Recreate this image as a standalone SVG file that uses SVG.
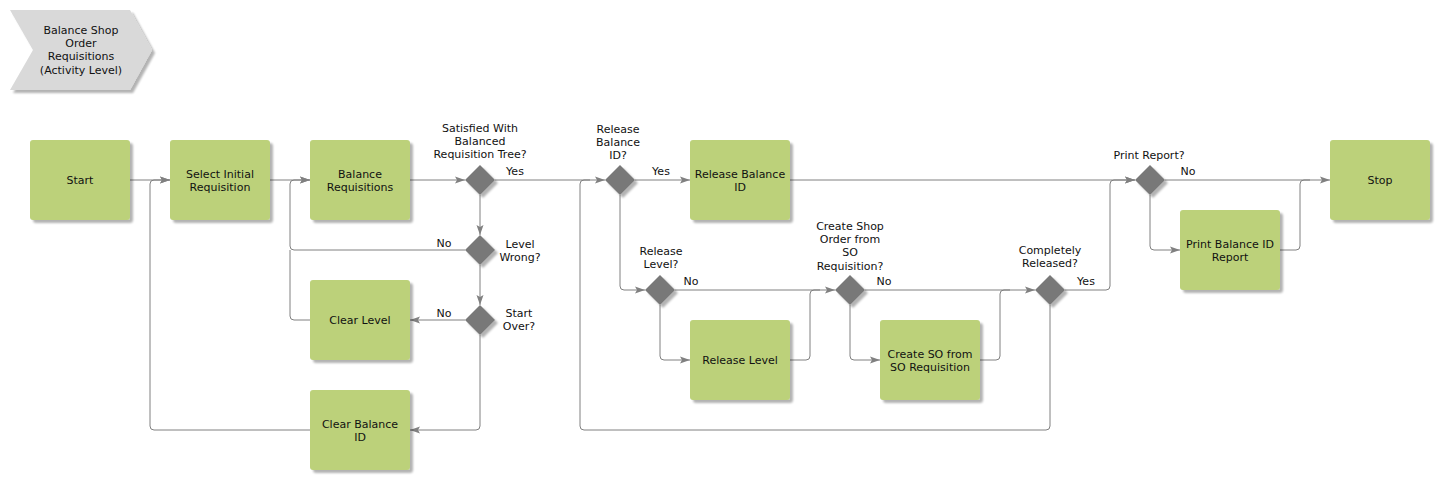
<svg xmlns="http://www.w3.org/2000/svg" width="1440" height="480" viewBox="0 0 1440 480">
<defs>
<style>
text{font-family:"DejaVu Sans",Verdana,sans-serif;font-size:11px;fill:#111;text-anchor:middle}
.box{fill:#bcd17a;filter:url(#sh)}
.dia{fill:#787878;filter:url(#sh)}
.hdr{fill:#d9d9d9;filter:url(#sh)}
.c{fill:none;stroke:#808080;stroke-width:1}
.a{marker-end:url(#arr)}
</style>
<filter id="sh" x="-20%" y="-20%" width="150%" height="150%">
<feGaussianBlur in="SourceAlpha" stdDeviation="1.2"/>
<feOffset dx="3" dy="3" result="o"/>
<feComponentTransfer><feFuncA type="linear" slope="0.3"/></feComponentTransfer>
<feMerge><feMergeNode/><feMergeNode in="SourceGraphic"/></feMerge>
</filter>
<marker id="arr" markerUnits="userSpaceOnUse" markerWidth="11" markerHeight="8" refX="10" refY="4" orient="auto">
<path d="M0,0.5 L10,4 L0,7.5 L2,4 z" fill="#808080"/>
</marker>
</defs>

<g id="header">
<polygon class="hdr" points="10,10 130,10 152,50 130,90 10,90 33,50"/>
<text x="81" y="34">Balance Shop</text>
<text x="81" y="47">Order</text>
<text x="81" y="60">Requisitions</text>
<text x="81" y="74">(Activity Level)</text>
</g>

<g id="connectors">
<path class="c a" d="M130,180 H170"/>
<path class="c a" d="M310,430 H154 Q150,430 150,426 V184 Q150,180 154,180 H170"/>
<path class="c a" d="M270,180 H310"/>
<path class="c a" d="M465,250 H294 Q290,250 290,246 V184 Q290,180 294,180 H310"/>
<path class="c" d="M310,320 H294 Q290,320 290,316 V250"/>
<path class="c a" d="M410,180 H465"/>
<path class="c a" d="M495,180 H605"/>
<path class="c a" d="M480,195 V235"/>
<path class="c a" d="M480,265 V305"/>
<path class="c a" d="M465,320 H410"/>
<path class="c a" d="M480,335 V426 Q480,430 476,430 H410"/>
<path class="c a" d="M635,180 H690"/>
<path class="c a" d="M620,195 V286 Q620,290 624,290 H645"/>
<path class="c a" d="M675,290 H835"/>
<path class="c a" d="M660,305 V356 Q660,360 664,360 H690"/>
<path class="c" d="M790,360 H806 Q810,360 810,356 V294 Q810,290 814,290 H820"/>
<path class="c a" d="M865,290 H1035"/>
<path class="c a" d="M850,305 V356 Q850,360 854,360 H880"/>
<path class="c" d="M980,360 H996 Q1000,360 1000,356 V294 Q1000,290 1004,290 H1010"/>
<path class="c a" d="M1065,290 H1106 Q1110,290 1110,286 V184 Q1110,180 1114,180 H1135"/>
<path class="c a" d="M790,180 H1135"/>
<path class="c a" d="M1165,180 H1330"/>
<path class="c a" d="M1150,195 V246 Q1150,250 1154,250 H1180"/>
<path class="c" d="M1280,250 H1296 Q1300,250 1300,246 V184 Q1300,180 1304,180 H1310"/>
<path class="c" d="M1050,305 V426 Q1050,430 1046,430 H584 Q580,430 580,426 V184 Q580,180 584,180 H590"/>
<text x="515" y="175">Yes</text>
<text x="444" y="247">No</text>
<text x="444" y="317">No</text>
<text x="661" y="175">Yes</text>
<text x="691" y="285">No</text>
<text x="884" y="285">No</text>
<text x="1086" y="285">Yes</text>
<text x="1188" y="175">No</text>
</g>

<g id="start"><rect class="box" x="30" y="140" width="100" height="80" rx="3"/><text x="80" y="184">Start</text></g>
<g id="select-initial"><rect class="box" x="170" y="140" width="100" height="80" rx="3"/><text x="220" y="178">Select Initial</text><text x="220" y="191">Requisition</text></g>
<g id="balance-req"><rect class="box" x="310" y="140" width="100" height="80" rx="3"/><text x="360" y="178">Balance</text><text x="360" y="191">Requisitions</text></g>
<g id="clear-level"><rect class="box" x="310" y="280" width="100" height="80" rx="3"/><text x="360" y="324">Clear Level</text></g>
<g id="clear-balance"><rect class="box" x="310" y="390" width="100" height="80" rx="3"/><text x="360" y="428">Clear Balance</text><text x="360" y="441">ID</text></g>
<g id="release-balance"><rect class="box" x="690" y="140" width="100" height="80" rx="3"/><text x="740" y="178">Release Balance</text><text x="740" y="191">ID</text></g>
<g id="release-level"><rect class="box" x="690" y="320" width="100" height="80" rx="3"/><text x="740" y="364">Release Level</text></g>
<g id="create-so"><rect class="box" x="880" y="320" width="100" height="80" rx="3"/><text x="930" y="358">Create SO from</text><text x="930" y="371">SO Requisition</text></g>
<g id="print-balance"><rect class="box" x="1180" y="210" width="100" height="80" rx="3"/><text x="1230" y="248">Print Balance ID</text><text x="1230" y="261">Report</text></g>
<g id="stop"><rect class="box" x="1330" y="140" width="100" height="80" rx="3"/><text x="1380" y="184">Stop</text></g>

<g id="d-satisfied"><polygon class="dia" points="480,165 495,180 480,195 465,180"/><text x="480" y="132">Satisfied With</text><text x="480" y="145">Balanced</text><text x="480" y="158">Requisition Tree?</text></g>
<g id="d-level-wrong"><polygon class="dia" points="480,235 495,250 480,265 465,250"/><text x="520" y="248">Level</text><text x="520" y="261">Wrong?</text></g>
<g id="d-start-over"><polygon class="dia" points="480,305 495,320 480,335 465,320"/><text x="519" y="317">Start</text><text x="519" y="330">Over?</text></g>
<g id="d-release-balance"><polygon class="dia" points="620,165 635,180 620,195 605,180"/><text x="618" y="133">Release</text><text x="618" y="146">Balance</text><text x="618" y="159">ID?</text></g>
<g id="d-release-level"><polygon class="dia" points="660,275 675,290 660,305 645,290"/><text x="661" y="255">Release</text><text x="661" y="268">Level?</text></g>
<g id="d-create-shop"><polygon class="dia" points="850,275 865,290 850,305 835,290"/><text x="850" y="230">Create Shop</text><text x="850" y="243">Order from</text><text x="850" y="256">SO</text><text x="850" y="270">Requisition?</text></g>
<g id="d-completely"><polygon class="dia" points="1050,275 1065,290 1050,305 1035,290"/><text x="1050" y="254">Completely</text><text x="1050" y="267">Released?</text></g>
<g id="d-print-report"><polygon class="dia" points="1150,165 1165,180 1150,195 1135,180"/><text x="1149" y="159">Print Report?</text></g>
</svg>
